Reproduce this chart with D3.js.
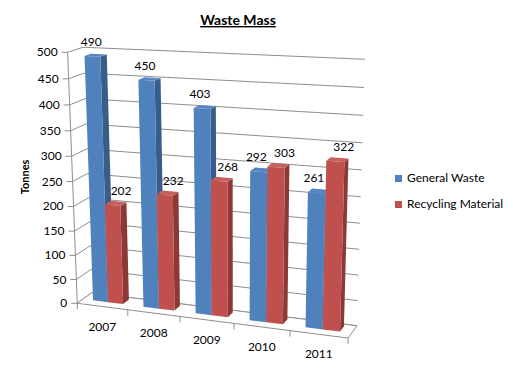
<!DOCTYPE html>
<meta charset="utf-8">
<title>Waste Mass</title>
<style>

body {
  margin: 0px;
  background: #fff;
}

svg {
  display: block;
  font-family: Lato, "Open Sans", sans-serif;
}

.grid {
  fill: none;
  stroke: #8e8e8e;
  stroke-width: 1;
}

.floor {
  fill: #fff;
  stroke: #8e8e8e;
}

text {
  fill: #000;
  font-size: 12px;
}

</style>

<script src="https://cdn.jsdelivr.net/npm/d3@7"></script>

<body>

<script>

var years = ["2007", "2008", "2009", "2010", "2011"];
var generalWaste = [490, 450, 403, 292, 261];
var recyclingMaterial = [202, 232, 268, 303, 322];
var seriesNames = ["General Waste", "Recycling Material"];
var yTicks = [0, 50, 100, 150, 200, 250, 300, 350, 400, 450, 500];

var width = 513, height = 380;

var colors = {
  front: ["#4f81bd", "#c0504d"],
  side:  ["#385d8a", "#8c3836"],
  top:   ["#5585c2", "#c4605d"]
};

// world scales: x along the categories (0..5), y in tonnes, z depth (0 = back wall, 1 = front of floor)
var x0 = d3.scaleBand().domain(years).range([0, 5]);
var x1 = d3.scaleBand().domain(seriesNames).range([0.2, 0.8]);
var xLabel = d3.scaleBand().domain(seriesNames).range([0.02, 1.0]);
var y = d3.scaleLinear().domain([0, 500]).range([0, 1]);
var zBack = 0.17, zFront = 0.6;

// camera: world corners of the plot box and where they land on screen
var calib = [
  [0, 500, 0, 82, 48],
  [5, 500, 0, 365, 60],
  [5, 250, 0, 362, 196],
  [5, 0, 0, 357, 325],
  [0, 500, 1, 68, 52],
  [0, 250, 1, 73, 180],
  [0, 0, 1, 78, 303],
  [1, 0, 1, 128, 310.5],
  [2, 0, 1, 179.5, 317],
  [3, 0, 1, 234, 324],
  [4, 0, 1, 289, 332],
  [5, 0, 1, 348, 337]
];

var cam = fitCamera(calib);

function fitCamera(pts) {
  var A = [], b = [];
  pts.forEach(function(p) {
    var u = p[0] / 5, w = y(p[1]), z = p[2];
    var X = (p[3] - 250) / 100, Y = (p[4] - 200) / 100;
    A.push([u, w, z, 1, 0, 0, 0, 0, -X * u, -X * w, -X * z]); b.push(X);
    A.push([0, 0, 0, 0, u, w, z, 1, -Y * u, -Y * w, -Y * z]); b.push(Y);
  });
  var n = 11, M = [];
  for (var i = 0; i < n; i++) {
    var row = [];
    for (var j = 0; j < n; j++) row.push(d3.sum(A, function(r) { return r[i] * r[j]; }));
    row.push(d3.sum(A, function(r, k) { return r[i] * b[k]; }));
    M.push(row);
  }
  // gaussian elimination
  for (var c = 0; c < n; c++) {
    var piv = c;
    for (var r = c + 1; r < n; r++) if (Math.abs(M[r][c]) > Math.abs(M[piv][c])) piv = r;
    var t = M[c]; M[c] = M[piv]; M[piv] = t;
    for (var r = 0; r < n; r++) {
      if (r === c) continue;
      var f = M[r][c] / M[c][c];
      for (var k = c; k <= n; k++) M[r][k] -= f * M[c][k];
    }
  }
  return M.map(function(row, i) { return row[n] / row[i]; });
}

// project world point (category units, tonnes, depth) to screen
function P(xw, v, z) {
  var u = xw / 5, w = y(v), p = cam;
  var d = p[8] * u + p[9] * w + p[10] * z + 1;
  return [
    (p[0] * u + p[1] * w + p[2] * z + p[3]) / d * 100 + 250,
    (p[4] * u + p[5] * w + p[6] * z + p[7]) / d * 100 + 200
  ];
}

var line = d3.line();

var svg = d3.select("body").append("svg")
    .attr("width", width)
    .attr("height", height);

// back wall and side wall gridlines
svg.selectAll("path.back")
    .data(yTicks)
  .enter().append("path")
    .attr("class", "grid")
    .attr("d", function(v) { return line([P(0, v, 0), P(5, v, 0)]); });

svg.selectAll("path.side")
    .data(yTicks)
  .enter().append("path")
    .attr("class", "grid")
    .attr("d", function(v) { return line([P(0, v, 1), P(0, v, 0)]); });

// floor
svg.append("path")
    .attr("class", "floor")
    .attr("d", line([P(0, 0, 0), P(5, 0, 0), P(5, 0, 1), P(0, 0, 1)]) + "Z");

// value axis line and ticks
svg.append("path")
    .attr("class", "grid")
    .attr("d", line([P(0, 0, 1), P(0, 500, 1)]));

svg.selectAll("path.ytick")
    .data(yTicks)
  .enter().append("path")
    .attr("class", "grid")
    .attr("d", function(v) { var p = P(0, v, 1); return line([p, [p[0] - 6, p[1]]]); });

svg.selectAll("text.ylab")
    .data(yTicks)
  .enter().append("text")
    .attr("text-anchor", "end")
    .attr("x", function(v) { return P(0, v, 1)[0] - 10; })
    .attr("y", function(v) { return P(0, v, 1)[1] + 4; })
    .text(function(v) { return v; });

// category ticks on the front edge of the floor
svg.selectAll("path.xtick")
    .data(d3.range(0, 6))
  .enter().append("path")
    .attr("class", "grid")
    .attr("d", function(i) { var p = P(i, 0, 1); return line([p, [p[0], p[1] + 6]]); });

svg.selectAll("text.xlab")
    .data(years)
  .enter().append("text")
    .attr("text-anchor", "middle")
    .attr("x", function(d) { return P(x0(d) + 0.5, 0, 1)[0]; })
    .attr("y", function(d) { return P(x0(d) + 0.5, 0, 1)[1] + 24; })
    .text(function(d) { return d; });

// bars, drawn left to right so nearer faces paint over
var bars = [];
years.forEach(function(yr, i) {
  bars.push({ year: yr, s: 0, value: generalWaste[i] });
  bars.push({ year: yr, s: 1, value: recyclingMaterial[i] });
});

var g = svg.selectAll("g.bar")
    .data(bars)
  .enter().append("g")
    .attr("class", "bar");

function xa(d) { return x0(d.year) + x1(seriesNames[d.s]); }
function xb(d) { return xa(d) + x1.bandwidth(); }

g.append("path")
    .attr("fill", function(d) { return colors.side[d.s]; })
    .attr("d", function(d) {
      return line([P(xb(d), 0, zFront), P(xb(d), 0, zBack), P(xb(d), d.value, zBack), P(xb(d), d.value, zFront)]) + "Z";
    });

g.append("path")
    .attr("fill", function(d) { return colors.top[d.s]; })
    .attr("d", function(d) {
      return line([P(xa(d), d.value, zBack), P(xb(d), d.value, zBack), P(xb(d), d.value, zFront), P(xa(d), d.value, zFront)]) + "Z";
    });

g.append("path")
    .attr("fill", function(d) { return colors.front[d.s]; })
    .attr("d", function(d) {
      return line([P(xa(d), 0, zFront), P(xb(d), 0, zFront), P(xb(d), d.value, zFront), P(xa(d), d.value, zFront)]) + "Z";
    });

// data labels
function labelPos(d) {
  var xc = x0(d.year) + xLabel(seriesNames[d.s]) + xLabel.bandwidth() / 2;
  return P(xc, d.value, (zBack + zFront) / 2);
}

svg.selectAll("text.val")
    .data(bars)
  .enter().append("text")
    .attr("text-anchor", "middle")
    .attr("x", function(d) { return labelPos(d)[0]; })
    .attr("y", function(d) { return labelPos(d)[1] - 9; })
    .text(function(d) { return d.value; });

// title
svg.append("text")
    .attr("x", 238)
    .attr("y", 25)
    .attr("text-anchor", "middle")
    .style("font-size", "14px")
    .style("font-weight", "bold")
    .style("text-decoration", "underline")
    .text("Waste Mass");

svg.append("text")
    .attr("transform", "translate(29,177) rotate(-90)")
    .attr("text-anchor", "middle")
    .style("font-size", "11px")
    .style("font-weight", "bold")
    .text("Tonnes");

// legend
var legend = svg.selectAll("g.legend")
    .data(seriesNames)
  .enter().append("g")
    .attr("transform", function(d, i) { return "translate(395," + (175 + i * 26) + ")"; });

legend.append("rect")
    .attr("width", 7)
    .attr("height", 7)
    .attr("fill", function(d, i) { return colors.front[i]; });

legend.append("text")
    .attr("x", 12)
    .attr("y", 7)
    .text(function(d) { return d; });

</script>
